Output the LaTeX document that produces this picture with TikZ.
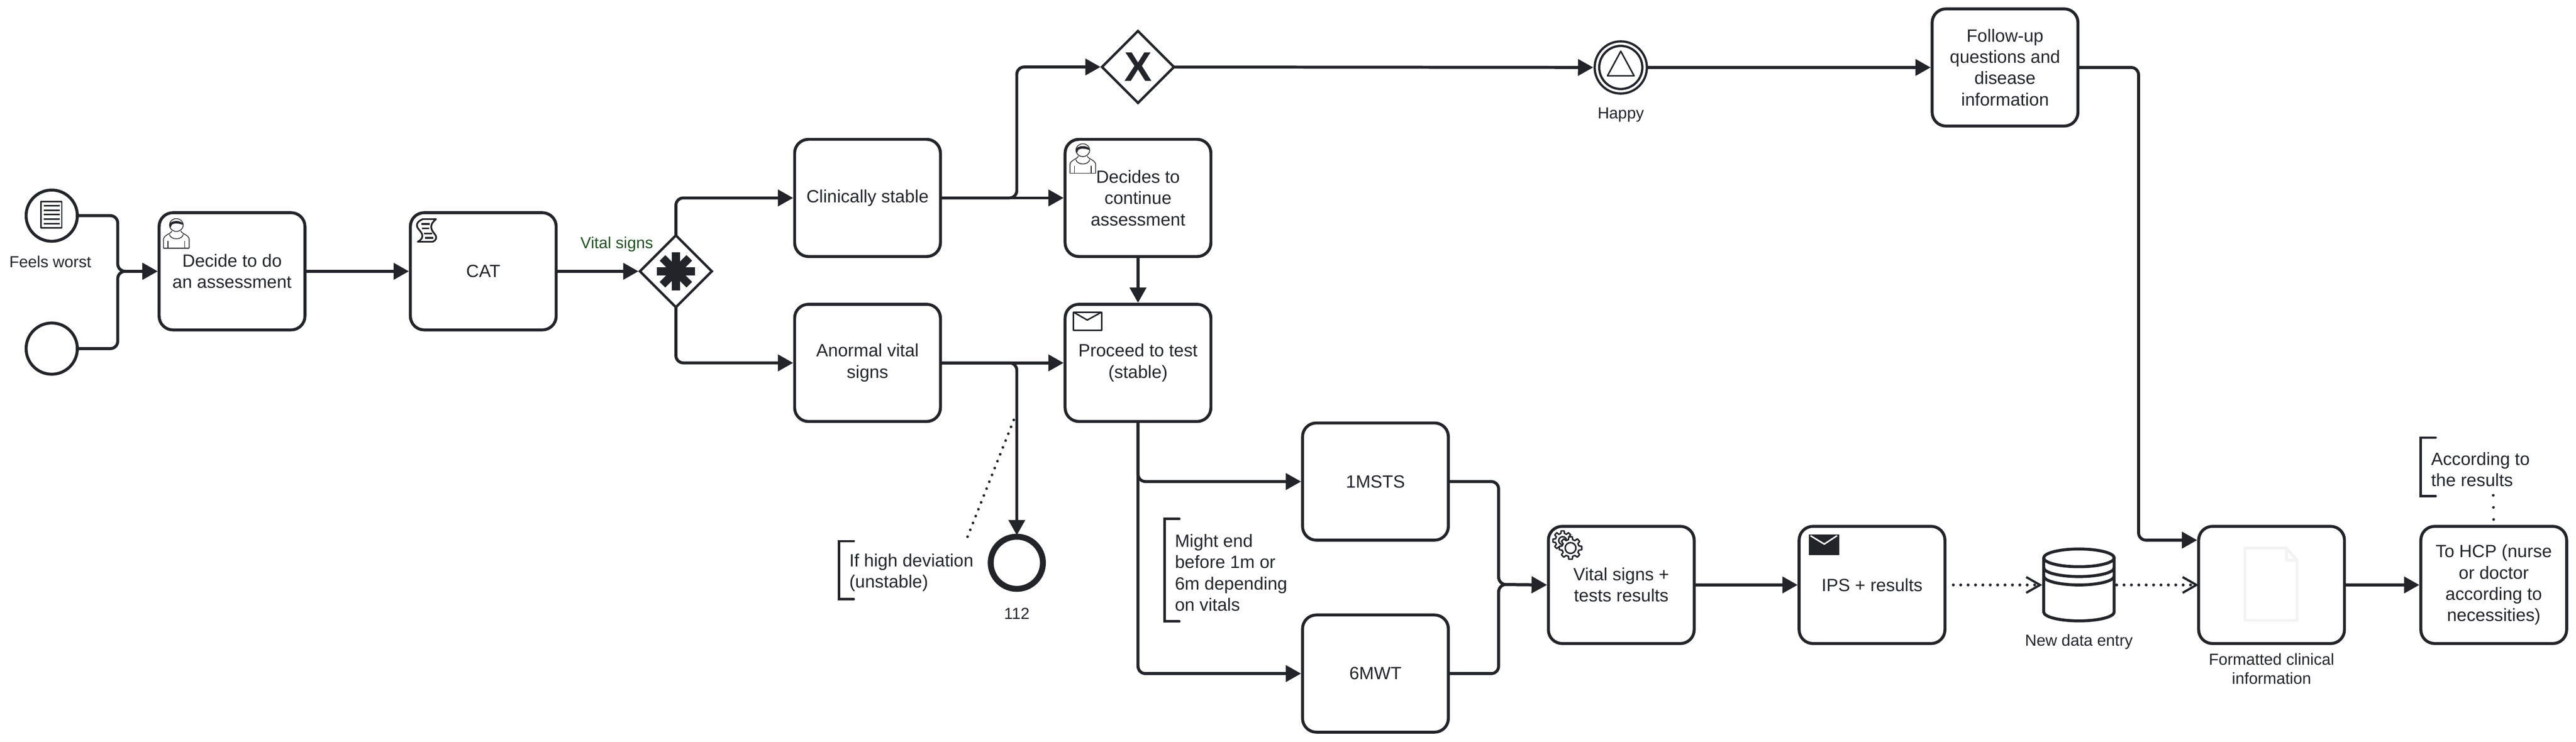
\documentclass[tikz,border=0pt]{standalone}
\usepackage{fontspec}
\setmainfont{Liberation Sans}
\usetikzlibrary{arrows.meta,positioning,shapes.geometric}
\definecolor{bpmnink}{HTML}{22242A}
\definecolor{bpmngreen}{HTML}{205022}
\definecolor{bpmnfaint}{HTML}{F3F3F3}
\tikzset{
	iconline/.style={line width=.03cm, line join=round},
	usericon/.pic={
			\draw[line width=.015cm, draw=bpmnink] (0,-.61) -- (0,-.42) .. controls (.01,-.36) and (.08,-.34) .. (.15,-.29) -- (.17,-.26);
			\draw[line width=.015cm, draw=bpmnink] (.52,-.61) -- (.52,-.42) .. controls (.51,-.36) and (.44,-.34) .. (.37,-.29) -- (.35,-.26);
			\draw[line width=.015cm, draw=bpmnink] (0,-.61) -- (.52,-.61);
			\draw[line width=.015cm, draw=bpmnink] (.12,-.33) .. controls (.14,-.45) and (.38,-.45) .. (.40,-.33);
			\draw[line width=.015cm, draw=bpmnink] (.09,-.46) -- (.09,-.61) (.43,-.46) -- (.43,-.61);
			\draw[line width=.015cm, draw=bpmnink] (.26,-.14) ellipse[x radius=.14, y radius=.13];
			\fill[bpmnink] (.12,-.14) .. controls (.12,-.03) and (.40,-.03) .. (.40,-.14) .. controls (.30,-.10) and (.22,-.10) .. (.17,-.13) -- (.14,-.20) -- cycle;
		},
	scripticon/.pic={
			\draw[line width=.035cm, line join=round, draw=bpmnink] (.12,0) -- (.39,0) .. controls (.25,-.12) and (.28,-.20) .. (.36,-.30)
			.. controls (.42,-.37) and (.40,-.43) .. (.32,-.46) -- (.02,-.46)
			.. controls (.16,-.38) and (.12,-.30) .. (.05,-.22) .. controls (-.03,-.13) and (-.01,-.06) .. (.12,0) -- cycle;
			\draw[line width=.035cm, draw=bpmnink] (.09,-.10) -- (.26,-.10) (.10,-.19) -- (.25,-.19) (.15,-.29) -- (.31,-.29) (.17,-.38) -- (.34,-.38);
		},
	gearicon/.pic={
			\foreach \cx/\cy/\rt/\rb/\rh in {-.16/.15/.20/.15/.08, 0/0/.23/.175/.11}{
					\draw[iconline, draw=bpmnink, fill=white, shift={(\cx,\cy)}] (-14:\rb)
					\foreach \a in {0,45,...,315}{ -- (\a-14:\rb) -- (\a-9:\rt) -- (\a+9:\rt) -- (\a+14:\rb) } -- cycle
					(0:\rh) arc[start angle=0, end angle=360, radius=\rh];
				}
		}
}

\begin{document}
\begin{tikzpicture}
	[color=bpmnink, >={Triangle[length=.31cm,width=.33cm]},
		% STYLES
		% The task style is used to draw the rounded activities
		task/.style={rectangle, draw, rounded corners=.28cm, line width=.06cm, outer sep=0pt,
				minimum width=2.96cm, minimum height=2.38cm, align=center, inner sep=0pt,
				font=\fontsize{10.24}{12.3}\selectfont},
		% The event and gate styles are used to draw the circles and diamonds
		event/.style={circle, draw, line width=.06cm, minimum size=1.04cm, inner sep=0pt, outer sep=0pt},
		gate/.style={diamond, draw, line width=.05cm, minimum size=1.46cm, inner sep=0pt, outer sep=0pt},
		% The caption style is used for the small texts by the shapes
		caption/.style={inner sep=0pt, outer sep=0pt, align=center, font=\fontsize{9.25}{11.1}\selectfont},
		% The note style is used for the bracket annotations
		note/.style={inner xsep=.21cm, inner ysep=0pt, outer sep=0pt, align=left, anchor=west,
				font=\fontsize{10.24}{12.3}\selectfont},
		notebar/.style={line width=.05cm, line cap=round},
		flow/.style={->, line width=.06cm, rounded corners=.15cm, shorten >=.03cm},
		dataflow/.style={line width=.06cm, line cap=round, dash pattern=on 0pt off .15cm, shorten <=.17cm,
				-{Straight Barb[length=.28cm,width=.32cm,line width=.045cm]}},
		assoc/.style={line width=.055cm, line cap=round, dash pattern=on 0pt off .15cm}]

	\useasboundingbox (0,0) rectangle (52.29,-15.06);

	% Draw events
	\node [event] (start1) at (1.05,-4.38) {};
	\node [event, below=1.66cm of start1] (start2) {};
	\node [event, line width=.045cm, minimum size=1.06cm] (happy) at (32.90,-1.37) {};
	\node [event, line width=.12cm, minimum size=1.06cm] (end112) at (20.64,-11.43) {};
	\node [event, line width=.045cm, minimum size=.875cm] (happyin) at (happy.center) {};

	% Draw tasks
	\node [task] (decide) at (4.71,-5.51) {Decide to do\\an assessment};
	\node [task, right=2.14cm of decide] (cat) {CAT};
	\node [gate, right=1.70cm of cat] (gwa) {};
	\node [task] (clin) at (17.61,-4.02) {Clinically stable};
	\node [task, right=2.53cm of clin] (decides) {Decides to\\continue\\assessment};
	\node [task, below=.97cm of clin] (anormal) {Anormal vital\\signs};
	\node [task, below=.97cm of decides] (proceed) {Proceed to test\\(stable)};
	\node [gate, above=.74cm of decides, font=\fontsize{23.9}{24}\selectfont\bfseries] (gwb) {X};
	\node [task] (follow) at (40.70,-1.37) {Follow-up\\questions and\\disease\\information};
	\node [task] (msts) at (27.92,-9.78) {1MSTS};
	\node [task, below=1.52cm of msts] (mwt) {6MWT};
	\node [task] (vital) at (32.91,-11.88) {Vital signs +\\tests results};
	\node [task, right=2.13cm of vital] (ips) {IPS + results};
	\node [minimum width=1.49cm, minimum height=1.46cm, inner sep=0pt, outer sep=0pt] (db) at (42.20,-11.88) {};
	\node [task] (formatted) at (46.11,-11.88) {};
	\node [task, right=1.55cm of formatted] (hcp) {To HCP (nurse\\or doctor\\according to\\necessities)};

	% Captions
	\node [caption] (feelslab) at (1.02,-5.32) {Feels worst};
	\node [caption, text=bpmngreen] (vitallab) at (12.52,-4.96) {Vital signs};
	\node [caption] (happylab) at (32.90,-2.33) {Happy};
	\node [caption] (lab112) at (20.64,-12.46) {112};
	\node [caption] (dblab) at (42.20,-13.04) {New data entry};
	\node [caption] (formlab) at (46.11,-13.58) {Formatted clinical\\information};

	% Annotations
	\node [note, minimum height=1.18cm] (nota) at (17.03,-11.63) {If high deviation\\(unstable)};
	\node [note, minimum height=2.08cm] (notb) at (23.64,-11.63) {Might end\\before 1m or\\6m depending\\on vitals};
	\node [note, minimum height=1.19cm] (notc) at (49.14,-9.535) {According to\\the results};
	\foreach \bar in {nota,notb,notc}{
			\draw[notebar] ([shift={(.3,.05)}]\bar.north west) -- ([yshift=.05cm]\bar.north west) -- ([yshift=.05cm]\bar.south west) -- ([shift={(.3,.05)}]\bar.south west);
		}

	% Icons
	\pic at ([shift={(.09,-.11)}]decide.north west) {usericon};
	\pic at ([shift={(.10,-.08)}]decides.north west) {usericon};
	\pic at ([shift={(.13,-.13)}]cat.north west) {scripticon};
	\pic at (31.88,-11.13) {gearicon};
	\begin{scope}[shift={(start1.center)}]
		\draw[iconline] (-.215,-.25) rectangle (.205,.285);
		\foreach \ly in {.20,.11,.02,-.07,-.16}{
				\draw[iconline] (-.16,\ly) -- (.16,\ly);
			}
	\end{scope}
	\begin{scope}[shift={(gwa.center)}]
		\foreach \ang in {0,45,90,135}{
				\draw[line width=.16cm] (\ang:.385) -- (\ang+180:.385);
			}
	\end{scope}
	\begin{scope}[shift={(happy.center)}]
		\draw[iconline] (-.27,-.17) -- (.27,-.17) -- (0,.33) -- cycle;
	\end{scope}
	\begin{scope}[shift={(proceed.north west)}]
		\draw[iconline] (.17,-.16) rectangle (.74,-.53);
		\draw[iconline] (.17,-.16) -- (.45,-.32) -- (.74,-.16);
	\end{scope}
	\begin{scope}[shift={(ips.north west)}]
		\fill (.20,-.17) rectangle (.81,-.58);
		\draw[iconline, draw=white] (.23,-.19) -- (.51,-.36) -- (.77,-.19);
	\end{scope}
	\begin{scope}[shift={(db.center)}]
		\draw[line width=.06cm] (-.715,.55) -- (-.715,-.55) arc[start angle=180, end angle=360, x radius=.715, y radius=.18] -- (.715,.55);
		\draw[line width=.06cm] (0,.55) ellipse[x radius=.715, y radius=.18];
		\draw[line width=.06cm] (-.715,.35) arc[start angle=180, end angle=360, x radius=.715, y radius=.18];
		\draw[line width=.06cm] (-.715,.18) arc[start angle=180, end angle=360, x radius=.715, y radius=.18];
	\end{scope}
	\begin{scope}[shift={(formatted.center)}]
		\draw[line width=.06cm, draw=bpmnfaint, line join=round] (-.54,.75) -- (.30,.75) -- (.52,.50) -- (.52,-.72) -- (-.54,-.72) -- cycle;
		\draw[line width=.06cm, draw=bpmnfaint, line join=round] (.30,.75) -- (.30,.50) -- (.52,.50);
	\end{scope}

	% Free ends
	\coordinate (joina) at (2.39,-5.51);
	\coordinate (joinb) at (30.42,-11.87);
	\coordinate (turnb) at (20.64,-4.02);
	\coordinate (turnf) at (43.41,-10.97);
	\coordinate (asctop) at (20.59,-8.50);
	\coordinate (ascend) at (19.64,-10.90);
	\coordinate (hcpend) at (50.61,-10.06);

	% Sequence flows
	\draw[flow] (start1.east) -| (joina) -- (decide.west);
	\draw[flow] (start2.east) -| (joina) -- (decide.west);
	\draw[flow] (decide) -- (cat);
	\draw[flow] (cat) -- (gwa);
	\draw[flow] (gwa.north) |- (clin.west);
	\draw[flow] (gwa.south) |- (anormal.west);
	\draw[flow] (clin) -- (decides);
	\draw[flow] (clin.east) -- (turnb) |- (gwb.west);
	\draw[flow] (anormal) -- (proceed);
	\draw[flow] (anormal.east) -| (end112.north);
	\draw[flow] (decides) -- (proceed);
	\draw[flow] (gwb) -- (happy);
	\draw[flow] (happy) -- (follow);
	\draw[flow] (follow.east) -| (turnf) -- (formatted.west |- turnf);
	\draw[flow] (proceed.south) |- (msts.west);
	\draw[flow] (proceed.south) |- (mwt.west);
	\draw[flow] (msts.east) -| (joinb) -- (vital.west);
	\draw[flow] (mwt.east) -| (joinb) -- (vital.west);
	\draw[flow] (vital) -- (ips);
	\draw[flow] (formatted) -- (hcp);

	% Data flows
	\draw[dataflow] (ips.east) -- (db.west);
	\draw[dataflow, shorten <=.02cm] (db.east) -- (formatted.west);

	% Associations
	\draw[assoc] (ascend) -- (asctop);
	\draw[assoc, dash pattern=on 0pt off .245cm, shorten <=.14cm] (hcp.north) -- (hcpend);
\end{tikzpicture}
\end{document}
